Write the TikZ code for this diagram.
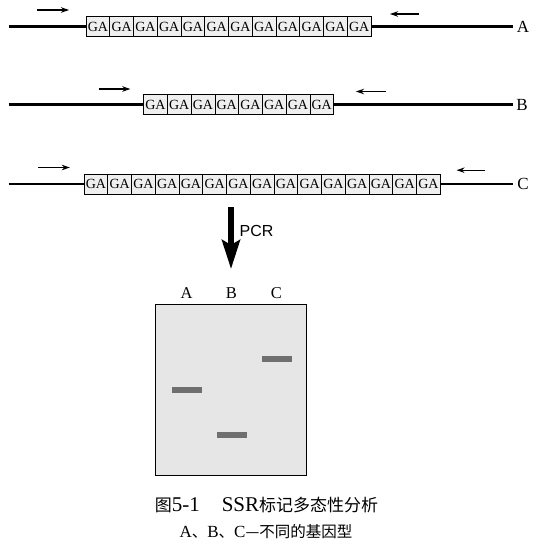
\documentclass[tikz,border=0pt]{standalone}
\usepackage{fontspec}
\setmainfont{Liberation Serif}
\newfontfamily\cjkfont{Noto Sans CJK SC}
\newfontfamily\pcrfont{Liberation Sans}
\usetikzlibrary{arrows.meta,calc}
\definecolor{boxgray}{HTML}{EFEFEF}
\definecolor{gelgray}{HTML}{E6E6E6}
\definecolor{bandgray}{HTML}{6F6F6F}

\begin{document}
\begin{tikzpicture}[x=1pt,y=-1pt,
    dna/.style={line width=2.6pt},
    repeatbox/.style={draw,line width=0.6pt,fill=boxgray,minimum width=23.75pt,minimum height=20pt,inner sep=0pt,font=\fontsize{14}{14}\selectfont},
    primer/.style={line width=1.1pt,-{Stealth[length=8pt,width=5.5pt]}},
    lbl/.style={font=\fontsize{17}{18}\selectfont},
    band/.style={fill=bandgray,minimum width=30pt,minimum height=6pt,inner sep=0pt}]
    \useasboundingbox (0,0) rectangle (536,544);
    \foreach \r/\y/\x/\n/\lx in {A/26.5/86/12/523,B/104.5/143.6/8/522,C/184/84/15/523}{
        \coordinate (\r start) at (8.5,\y);
        \coordinate (\r end) at (513,\y);
        \foreach \i in {1,...,\n}
            \node[repeatbox] (\r\i) at ({\x+(\i-0.5)*23.75},\y) {GA};
        \draw[dna] (\r start) -- (\r1.west);
        \draw[dna] (\r\n.east) -- (\r end);
        \node[lbl] (lab\r) at (\lx,\y) {\r};
    }
    \foreach \r/\fa/\fb/\fy/\ra/\rb/\ry in {A/37/69/10/419/390/14,B/98.5/130.3/89/385.8/356/91.5,C/38/69.8/167.5/485.3/456.6/170.2}{
        \coordinate (\r fwd1) at (\fa,\fy);
        \coordinate (\r fwd2) at (\fb,\fy);
        \coordinate (\r rev1) at (\ra,\ry);
        \coordinate (\r rev2) at (\rb,\ry);
        \draw[primer] (\r fwd1) -- (\r fwd2);
        \draw[primer] (\r rev1) -- (\r rev2);
    }
    \coordinate (pcrtop) at (231,207);
    \coordinate (pcrtip) at (231,269);
    \draw[line width=5.5pt,-{Stealth[length=29pt,width=18pt,inset=5pt]}] (pcrtop) -- (pcrtip);
    \node[font=\pcrfont\fontsize{16}{16}\selectfont] (pcr) at (256.5,231) {PCR};
    \node[draw,line width=1pt,fill=gelgray,minimum width=151pt,minimum height=171pt,inner sep=0pt] (gel) at (231,389.5) {};
    \foreach \r/\lx/\by in {A/187/390,B/232/435,C/277/359}{
        \node[font=\fontsize{16.5}{18}\selectfont] (lane\r) at (\lx-0.5,293) {\r};
        \node[band] (band\r) at (\lx,\by) {};
    }
    \node[font=\fontsize{21}{22}\selectfont] (cap1) at (266.5,505) {{\cjkfont\fontsize{17}{18}\selectfont 图}5-1\hspace{22pt}SSR{\cjkfont\fontsize{17}{18}\selectfont 标记多态性分析}};
    \node[font=\fontsize{17}{18}\selectfont] (cap2) at (266,532) {A{\cjkfont\fontsize{15.5}{16}\selectfont 、}B{\cjkfont\fontsize{15.5}{16}\selectfont 、}C{\cjkfont\fontsize{15.5}{16}\selectfont —不同的基因型}};
\end{tikzpicture}
\end{document}
